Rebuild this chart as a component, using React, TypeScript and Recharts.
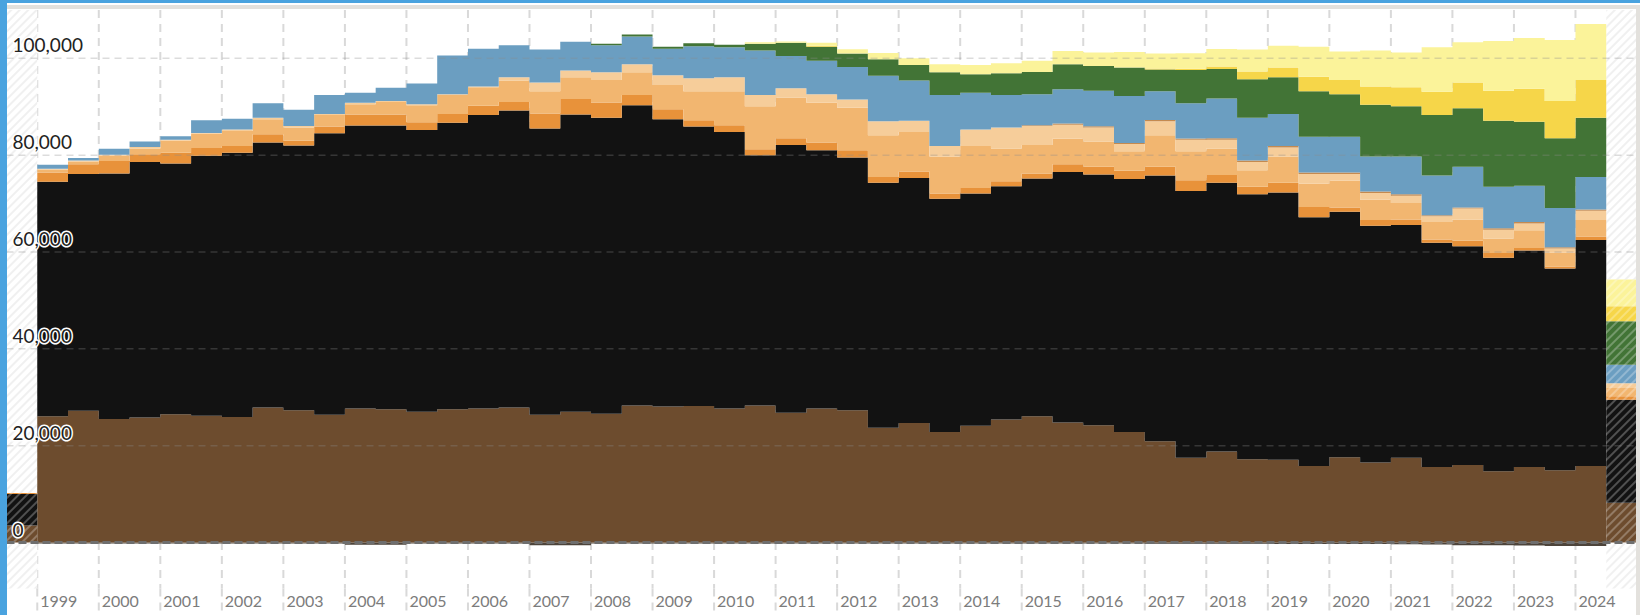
import React from "react";
import { Area, AreaChart, CartesianGrid, ReferenceArea, ReferenceLine, XAxis, YAxis } from "recharts";

// half-year steps, 1999 H1 .. 2024 H1
const yearTicks = [
  1999, 2000, 2001, 2002, 2003, 2004, 2005, 2006, 2007, 2008, 2009, 2010, 2011,
  2012, 2013, 2014, 2015, 2016, 2017, 2018, 2019, 2020, 2021, 2022, 2023, 2024,
];
const valueTicks = [0, 20000, 40000, 60000, 80000, 100000];

const below = [
  -200, -200, -200, -200, -200, -200, -200, -200, -200, -200, -450, -450, -200, -200, -200, -200, -550,
  -550, -200, -200, -200, -200, -200, -200, -200, -200, -200, -200, -200, -200, -200, -200, -200, -200,
  -200, -200, -250, -250, -250, -250, -300, -300, -300, -300, -350, -400, -550, -550, -600, -700, -700,
];
const brown = [
  26100, 27200, 25500, 25800, 26500, 26200, 25900, 27900, 27300, 26400, 27700, 27500, 27000, 27500,
  27700, 27900, 26400, 27000, 26600, 28300, 28100, 28200, 27700, 28300, 26800, 27700, 27300, 23700,
  24700, 22800, 24100, 25400, 26100, 24800, 24200, 22800, 20900, 17500, 18800, 17200, 17100, 15800,
  17600, 16500, 17500, 15600, 16000, 14700, 15600, 14900, 15800,
];
const black = [
  48400, 48900, 50700, 52800, 51800, 53700, 54600, 54700, 54700, 58100, 58400, 58600, 58200, 59200,
  60600, 61300, 59100, 61400, 61100, 62000, 59300, 57700, 57100, 51700, 55300, 53300, 52200, 50600,
  50600, 48200, 48000, 48200, 49100, 51700, 51800, 52300, 54900, 55100, 55500, 54700, 55200, 51400,
  50700, 48900, 48100, 46300, 45200, 44100, 44700, 41700, 46700,
];
const darkOrange = [
  1900, 2000, 2600, 1600, 2200, 1600, 1400, 1700, 1000, 1400, 2300, 2300, 1600, 1800, 1900, 1800,
  3100, 3200, 3200, 2100, 2100, 1300, 1400, 1200, 1400, 1600, 1500, 1200, 1300, 1100, 1100, 1000,
  1000, 1600, 1600, 1700, 1800, 2200, 1600, 1600, 2000, 2100, 900, 1200, 1100, 700, 1100, 1000, 500,
  400, 700,
];
const lightOrange = [
  600, 600, 1100, 1200, 2500, 2900, 3100, 3100, 2700, 2400, 2100, 2600, 3500, 3900, 3800, 4400, 4600,
  4500, 4600, 4700, 5000, 6000, 7000, 8900, 8400, 8200, 8800, 8600, 8200, 7600, 8700, 6800, 5900,
  5300, 5200, 4000, 6500, 6000, 5500, 3400, 5400, 4800, 5500, 4200, 3400, 3600, 4400, 3000, 3700,
  2900, 3400,
];
const peach = [
  200, 200, 200, 300, 200, 200, 300, 300, 300, 200, 300, 200, 200, 200, 200, 700, 1800, 1400, 1600,
  1700, 2000, 2700, 2900, 2300, 1900, 1800, 1700, 2900, 2300, 2200, 3400, 4300, 3900, 2900, 2900,
  1500, 2900, 2400, 1800, 1700, 1900, 2000, 1400, 1400, 1500, 1200, 2300, 1800, 1400, 800, 1900,
];
const tan = [
  0, 0, 0, 0, 0, 0, 0, 0, 0, 0, 0, 0, 0, 0, 0, 0, 0, 0, 0, 0, 0, 0, 0, 0, 0, 0, 0, 0, 0, 0, 0, 0,
  200, 250, 250, 200, 250, 250, 300, 300, 300, 300, 300, 300, 300, 200, 200, 300, 300, 300, 300,
];
const blue = [
  800, 500, 1200, 1100, 700, 2600, 2200, 3000, 3400, 3900, 2100, 2700, 4300, 8000, 7800, 6600, 6800,
  5900, 5600, 5700, 5500, 6600, 6200, 9200, 6700, 6900, 6700, 9400, 8300, 10500, 7600, 6700, 6400,
  7050, 7350, 9700, 5950, 7250, 8200, 8800, 6600, 7400, 7400, 7200, 7800, 8200, 8400, 8600, 7500,
  8100, 6700,
];
const green = [
  0, 0, 0, 0, 0, 0, 0, 0, 0, 0, 0, 0, 0, 0, 0, 0, 0, 0, 300, 400, 400, 600, 500, 1400, 2700, 2900,
  2800, 3400, 3200, 4700, 3800, 4500, 4600, 5200, 5100, 5900, 4500, 6900, 6100, 8000, 7600, 9400,
  8800, 10700, 10400, 12500, 12100, 13600, 13200, 14400, 12200,
];
const yellow = [
  0, 0, 0, 0, 0, 0, 0, 0, 0, 0, 0, 0, 0, 0, 0, 0, 0, 0, 0, 0, 0, 0, 0, 0, 0, 200, 0, 0, 0, 0, 0, 0,
  0, 0, 0, 0, 200, 250, 500, 1600, 2000, 3000, 2900, 3800, 3900, 4800, 5300, 6200, 6800, 7700, 7800,
];
const lightYellow = [
  0, 0, 0, 0, 0, 0, 0, 0, 0, 0, 0, 0, 0, 0, 0, 0, 0, 0, 0, 0, 0, 0, 0, 300, 250, 600, 850, 1300,
  1400, 1700, 1900, 2100, 2300, 2700, 2800, 3200, 3100, 3200, 3600, 4500, 4500, 6200, 5900, 7400,
  7200, 9200, 8300, 10300, 10500, 12600, 11600,
];

// incomplete half-years at both ends, drawn hatched (same order as seriesKeys)
const edgeBefore = [3500, 6500, 200, 0, 0, 0, 0, 0, 0, 0];
const edgeAfter = [8200, 21300, 700, 1700, 1000, 0, 3800, 9000, 3100, 5500];

const seriesKeys = ["brown", "black", "darkOrange", "lightOrange", "peach", "tan", "blue", "green", "yellow", "lightYellow"];
const seriesValues = [brown, black, darkOrange, lightOrange, peach, tan, blue, green, yellow, lightYellow];
const seriesColors = ["#6d4c2e", "#121212", "#e8923a", "#f2b670", "#f6cd9a", "#c48a50", "#6b9ec1", "#427436", "#f6d649", "#fbf39a"];

const rows: Record<string, number>[] = [];
const makeRow = (x: number, idx: number | null, edge: number[] | null) => {
  const row: Record<string, number> = { x, below: idx === null ? 0 : below[idx] };
  seriesKeys.forEach((k, s) => {
    row[k] = idx === null ? 0 : seriesValues[s][idx];
    row[k + "Edge"] = edge ? edge[s] : 0;
  });
  return row;
};
rows.push(makeRow(1998.5, null, edgeBefore));
brown.forEach((_, i) => rows.push(makeRow(1999 + i / 2, i, null)));
rows.push(makeRow(2024.5, null, edgeAfter));
rows.push(makeRow(2025, null, edgeAfter));

const font = "Lato, 'Open Sans', sans-serif";

const YearTick = (props: any) => {
  const { x, y, payload } = props;
  return (
    <g>
      <line x1={x} x2={x} y1={y} y2={y + 30} stroke="#d9d9d9" strokeWidth={2} strokeDasharray="8 6" />
      <text x={x + 3} y={y + 18.5} fill="#7c7c7c" fontSize={16} fontFamily={font}>
        {payload.value}
      </text>
    </g>
  );
};

const ValueTick = (props: any) => {
  const { x, y, payload } = props;
  return (
    <text
      x={x + 6}
      y={y - 6}
      fill="#222"
      fontSize={19}
      fontFamily={font}
      stroke="#fff"
      strokeWidth={3}
      paintOrder="stroke"
      textAnchor="start"
    >
      {payload.value.toLocaleString("en-US")}
    </text>
  );
};

export default function App() {
  return (
    <div style={{ position: "absolute", left: 0, top: 0, width: 1640, height: 615, background: "#fff", overflow: "hidden" }}>
      <div style={{ position: "absolute", left: 0, top: 0 }}>
        <AreaChart width={1637} height={615} data={rows} margin={{ top: 9.9, left: 6.5, right: 0, bottom: 0 }}>
          <defs>
            <pattern id="hatch-bg" patternUnits="userSpaceOnUse" width={6} height={6} patternTransform="rotate(45)">
              <rect width={6} height={6} fill="#fff" />
              <line x1={3} y1={0} x2={3} y2={6} stroke="#ebebeb" strokeWidth={1.5} />
            </pattern>
            {seriesKeys.map((k, s) => (
              <pattern key={k} id={"hatch-" + k} patternUnits="userSpaceOnUse" width={6} height={6} patternTransform="rotate(45)">
                <rect width={6} height={6} fill={seriesColors[s]} />
                <line x1={3} y1={0} x2={3} y2={6} stroke="#fff" strokeOpacity={0.35} strokeWidth={1.5} />
              </pattern>
            ))}
          </defs>
          <CartesianGrid horizontal={false} stroke="#d9d9d9" strokeWidth={2} strokeDasharray="8 6" />
          <XAxis
            dataKey="x"
            type="number"
            domain={[1998.5, 2025]}
            ticks={yearTicks}
            interval={0}
            allowDataOverflow
            axisLine={false}
            tickLine={false}
            tickSize={0}
            tickMargin={0}
            height={26.5}
            tick={<YearTick />}
          />
          <YAxis
            type="number"
            domain={[-9500, 110000]}
            ticks={valueTicks}
            interval={0}
            allowDataOverflow
            mirror
            axisLine={false}
            tickLine={false}
            tickSize={0}
            tickMargin={0}
            tick={<ValueTick />}
          />
          <ReferenceArea x1={1998.5} x2={1999} fill="url(#hatch-bg)" fillOpacity={1} stroke="none" />
          <ReferenceArea x1={2024.5} x2={2025} fill="url(#hatch-bg)" fillOpacity={1} stroke="none" />
          <Area type="stepAfter" dataKey="below" fill="#4d443b" fillOpacity={1} stroke="none" dot={false} activeDot={false} isAnimationActive={false} />
          {seriesKeys.map((k, s) => (
            <Area
              key={k}
              type="stepAfter"
              dataKey={k}
              stackId="main"
              fill={seriesColors[s]}
              fillOpacity={1}
              stroke="none"
              dot={false}
              activeDot={false}
              isAnimationActive={false}
            />
          ))}
          {seriesKeys.map((k) => (
            <Area
              key={k + "Edge"}
              type="stepAfter"
              dataKey={k + "Edge"}
              stackId="edge"
              fill={"url(#hatch-" + k + ")"}
              fillOpacity={1}
              stroke="none"
              dot={false}
              activeDot={false}
              isAnimationActive={false}
            />
          ))}
          {valueTicks
            .filter((v) => v !== 0)
            .map((v) => (
              <ReferenceLine key={v} y={v} stroke="#8c8c8c" strokeOpacity={0.3} strokeWidth={1.5} strokeDasharray="7 5" />
            ))}
          <ReferenceLine y={0} stroke="#6e6e6e" strokeWidth={3} strokeDasharray="8 4" />
        </AreaChart>
      </div>
      <div style={{ position: "absolute", left: 0, top: 0, width: 7, height: 615, background: "#4aa3df" }} />
      <div style={{ position: "absolute", left: 0, top: 0, width: 1640, height: 3, background: "#4aa3df" }} />
      <div style={{ position: "absolute", left: 7, top: 5, width: 1633, height: 3.5, background: "#e3e1dd" }} />
      <div style={{ position: "absolute", left: 1636, top: 5, width: 4, height: 610, background: "#e3e1dd" }} />
    </div>
  );
}
